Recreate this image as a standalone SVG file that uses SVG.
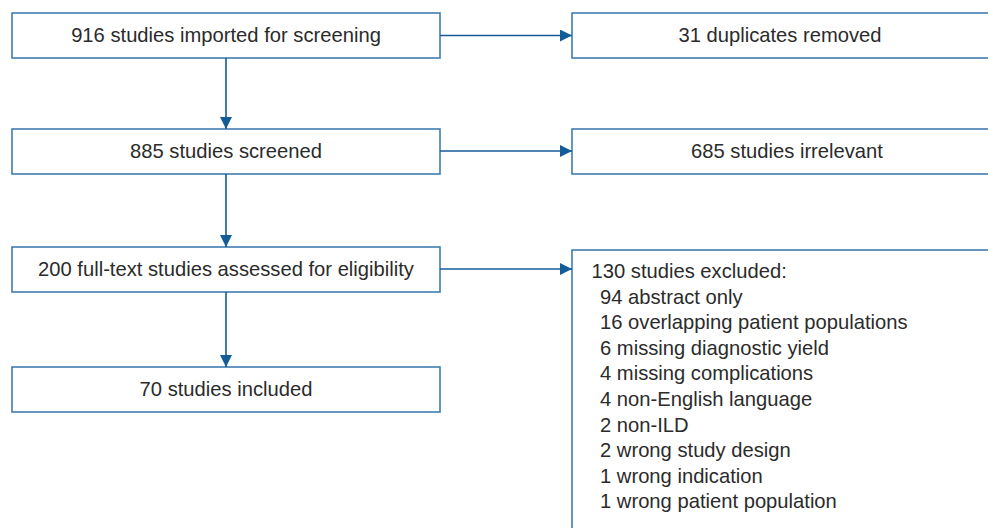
<svg xmlns="http://www.w3.org/2000/svg" width="988" height="528" viewBox="0 0 988 528">
<style>
.box{fill:#fff;stroke:#3f7db1;stroke-width:1.6}
.t{font-family:"Liberation Sans",Arial,sans-serif;font-size:20.2px;fill:#2b2b2b}
.c{text-anchor:middle}
.arr{stroke:#135c98;stroke-width:1.6;fill:none;marker-end:url(#ah)}
</style>
<defs>
<marker id="ah" viewBox="0 0 12 12" refX="12" refY="6" markerWidth="12" markerHeight="12" markerUnits="userSpaceOnUse" orient="auto">
<path d="M0,0 L12,6 L0,12 Z" fill="#135c98"/>
</marker>
</defs>
<rect width="988" height="528" fill="#fff"/>
<g id="n1"><rect class="box" x="12" y="13" width="428" height="45"/><text class="t c" x="226" y="42">916 studies imported for screening</text></g>
<g id="n2"><rect class="box" x="572" y="13" width="430" height="45"/><text class="t c" x="780" y="42">31 duplicates removed</text></g>
<g id="n3"><rect class="box" x="12" y="129" width="428" height="45"/><text class="t c" x="226" y="158">885 studies screened</text></g>
<g id="n4"><rect class="box" x="572" y="129" width="430" height="45"/><text class="t c" x="787" y="158">685 studies irrelevant</text></g>
<g id="n5"><rect class="box" x="12" y="247" width="428" height="45"/><text class="t c" x="226" y="276">200 full-text studies assessed for eligibility</text></g>
<g id="n6"><rect class="box" x="12" y="367" width="428" height="45"/><text class="t c" x="226" y="396">70 studies included</text></g>
<g id="n7"><rect class="box" x="572" y="250" width="430" height="300"/>
<text class="t" x="591.5" y="278">130 studies excluded:</text>
<text class="t" x="600" y="303.6">94 abstract only</text>
<text class="t" x="600" y="329.2">16 overlapping patient populations</text>
<text class="t" x="600" y="354.8">6 missing diagnostic yield</text>
<text class="t" x="600" y="380.4">4 missing complications</text>
<text class="t" x="600" y="406">4 non-English language</text>
<text class="t" x="600" y="431.6">2 non-ILD</text>
<text class="t" x="600" y="457.2">2 wrong study design</text>
<text class="t" x="600" y="482.8">1 wrong indication</text>
<text class="t" x="600" y="508.4">1 wrong patient population</text>
</g>
<g id="connectors">
<path class="arr" d="M226,58 V129"/>
<path class="arr" d="M226,174 V247"/>
<path class="arr" d="M226,292 V367"/>
<path class="arr" d="M440,35.5 H572"/>
<path class="arr" d="M440,151 H572"/>
<path class="arr" d="M440,269 H572"/>
</g>
</svg>
